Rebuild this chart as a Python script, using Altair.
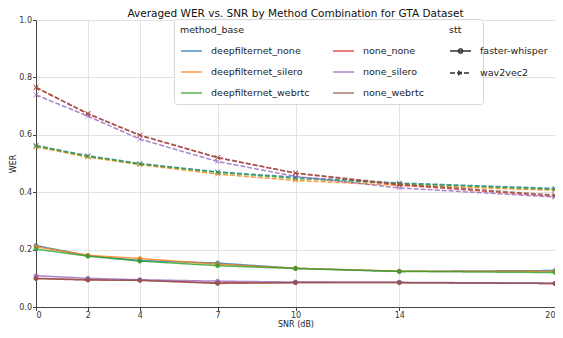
import altair as alt
import pandas as pd

snr = [0, 2, 4, 7, 10, 14, 20]
methods = ["deepfilternet_none", "deepfilternet_silero", "deepfilternet_webrtc",
           "none_none", "none_silero", "none_webrtc"]
stt_models = ["faster-whisper", "wav2vec2"]

fw_dfn_none = [0.214, 0.179, 0.162, 0.153, 0.135, 0.124, 0.127]
fw_dfn_silero = [0.210, 0.180, 0.169, 0.149, 0.135, 0.125, 0.124]
fw_dfn_webrtc = [0.202, 0.177, 0.160, 0.144, 0.134, 0.124, 0.120]
fw_none_none = [0.100, 0.095, 0.093, 0.084, 0.085, 0.085, 0.082]
fw_none_silero = [0.109, 0.100, 0.095, 0.090, 0.087, 0.086, 0.083]
fw_none_webrtc = [0.099, 0.094, 0.093, 0.082, 0.085, 0.085, 0.082]

w2v_dfn_none = [0.563, 0.527, 0.500, 0.471, 0.452, 0.432, 0.413]
w2v_dfn_silero = [0.558, 0.522, 0.496, 0.463, 0.441, 0.424, 0.407]
w2v_dfn_webrtc = [0.561, 0.525, 0.498, 0.469, 0.448, 0.430, 0.410]
w2v_none_none = [0.764, 0.673, 0.598, 0.520, 0.466, 0.425, 0.386]
w2v_none_silero = [0.739, 0.665, 0.585, 0.507, 0.455, 0.415, 0.383]
w2v_none_webrtc = [0.766, 0.674, 0.599, 0.521, 0.467, 0.428, 0.390]

series = {
    ("deepfilternet_none", "faster-whisper"): fw_dfn_none,
    ("deepfilternet_silero", "faster-whisper"): fw_dfn_silero,
    ("deepfilternet_webrtc", "faster-whisper"): fw_dfn_webrtc,
    ("none_none", "faster-whisper"): fw_none_none,
    ("none_silero", "faster-whisper"): fw_none_silero,
    ("none_webrtc", "faster-whisper"): fw_none_webrtc,
    ("deepfilternet_none", "wav2vec2"): w2v_dfn_none,
    ("deepfilternet_silero", "wav2vec2"): w2v_dfn_silero,
    ("deepfilternet_webrtc", "wav2vec2"): w2v_dfn_webrtc,
    ("none_none", "wav2vec2"): w2v_none_none,
    ("none_silero", "wav2vec2"): w2v_none_silero,
    ("none_webrtc", "wav2vec2"): w2v_none_webrtc,
}

rows = []
for m in methods:
    for s in stt_models:
        for x, v in zip(snr, series[(m, s)]):
            rows.append({"snr": x, "wer": v, "method_base": m, "stt": s})
df = pd.DataFrame(rows)

FONT = "DejaVu Sans"
blue, orange, green = "#1f77b4", "#ff7f0e", "#2ca02c"
red, purple, brown = "#d62728", "#9467bd", "#8c564b"
clear = "rgba(0,0,0,0)"
# invisible third legend column reserves room for the stt legend inside the box
d1, d2, d3 = "\u2003" * 8, "\u2003" * 8 + "\u00a0", "\u2003" * 8 + "\u00a0\u00a0"
color_domain = methods + [d1, d2, d3]
color_range = [blue, orange, green, red, purple, brown, clear, clear, clear]
mark_range = [blue, orange, green, red, purple, brown]

# legend glyphs: line with a dot / dashed line with an x
legend_shapes = ["M-1,0H1M-0.2,0A0.2,0.2,0,1,1,0.2,0A0.2,0.2,0,1,1,-0.2,0Z",
                 "M-1,0H1M-0.22,-0.22L0.22,0.22M-0.22,0.22L0.22,-0.22"]

x_enc = alt.X("snr:Q", title="SNR (dB)",
              scale=alt.Scale(domain=[0, 20], nice=False, zero=False),
              axis=alt.Axis(values=snr, format="d", labelPadding=1, titlePadding=1))
y_enc = alt.Y("wer:Q", title="WER",
              scale=alt.Scale(domain=[0, 1.0], nice=False),
              axis=alt.Axis(values=[0, 0.2, 0.4, 0.6, 0.8, 1.0], format=".1f",
                            labelPadding=1, titlePadding=1))

stt_legend = alt.Legend(orient="none", legendX=413, legendY=5,
                        rowPadding=5, symbolSize=441, symbolStrokeWidth=1.5,
                        symbolStrokeColor="#333", symbolFillColor="#333",
                        symbolOpacity=1, labelOffset=8,
                        labelFontSize=9.5, titleFontSize=9.5,
                        titleFontWeight="normal", titlePadding=5,
                        padding=0, labelColor="#222", titleColor="#222")

lines = alt.Chart(df).mark_line(strokeWidth=1.5, opacity=0.8).encode(
    x=x_enc, y=y_enc,
    color=alt.Color("method_base:N",
                    scale=alt.Scale(domain=color_domain, range=color_range),
                    title="method_base",
                    legend=alt.Legend(orient="none", legendX=138, legendY=-1,
                                      columns=3, columnPadding=20, rowPadding=5,
                                      symbolType="stroke", symbolSize=441,
                                      symbolStrokeWidth=1.5, labelOffset=8,
                                      labelFontSize=9.5, titleFontSize=9.5,
                                      titleFontWeight="normal", titlePadding=5,
                                      padding=6, fillColor="rgba(255,255,255,0.85)",
                                      strokeColor="#d8d8d8", cornerRadius=3,
                                      labelColor="#222", titleColor="#222")),
    strokeDash=alt.StrokeDash("stt:N",
                              scale=alt.Scale(domain=stt_models, range=[[1, 0], [5, 2]]),
                              title="stt", legend=stt_legend),
    detail="method_base:N",
)

legend_pts = alt.Chart(df).mark_point(opacity=0, size=1).encode(
    x=x_enc, y=y_enc,
    shape=alt.Shape("stt:N", scale=alt.Scale(domain=stt_models, range=legend_shapes),
                    title="stt", legend=stt_legend),
)

fill_scale = alt.Scale(domain=methods, range=mark_range)

pts_fw = alt.Chart(df).transform_filter(alt.datum.stt == "faster-whisper").mark_point(
    shape="circle", filled=True, size=16, strokeWidth=1, opacity=0.8
).encode(
    x=x_enc, y=y_enc,
    fill=alt.Fill("method_base:N", scale=fill_scale, legend=None),
    stroke=alt.Stroke("method_base:N", scale=fill_scale, legend=None),
)

pts_w2v = alt.Chart(df).transform_filter(alt.datum.stt == "wav2vec2").mark_point(
    shape="M-1,-1L1,1M-1,1L1,-1", filled=False, size=22, strokeWidth=1, opacity=0.8
).encode(
    x=x_enc, y=y_enc,
    stroke=alt.Stroke("method_base:N", scale=fill_scale, legend=None),
)

chart = alt.layer(lines, legend_pts, pts_fw, pts_w2v).properties(
    width=519, height=287,
    title=alt.TitleParams("Averaged WER vs. SNR by Method Combination for GTA Dataset",
                          font=FONT, fontSize=10.5, fontWeight="normal", color="#111",
                          anchor="middle", offset=4, frame="group", dy=7),
    autosize=alt.AutoSizeParams(type="none"),
    padding={"left": 28, "top": 12, "right": 0, "bottom": 23},
).configure(font=FONT).configure_view(
    stroke="#444", strokeWidth=1
).configure_axis(
    labelFont=FONT, titleFont=FONT, labelFontSize=8, titleFontSize=8,
    labelColor="#333", titleColor="#222", titleFontWeight="normal",
    domainColor="#444", tickColor="#444", tickSize=3.5,
    gridColor="#e2e2e2", gridWidth=1,
).configure_legend(labelFont=FONT, titleFont=FONT)

chart.save("out.html", embed_options={"renderer": "svg", "actions": False})
